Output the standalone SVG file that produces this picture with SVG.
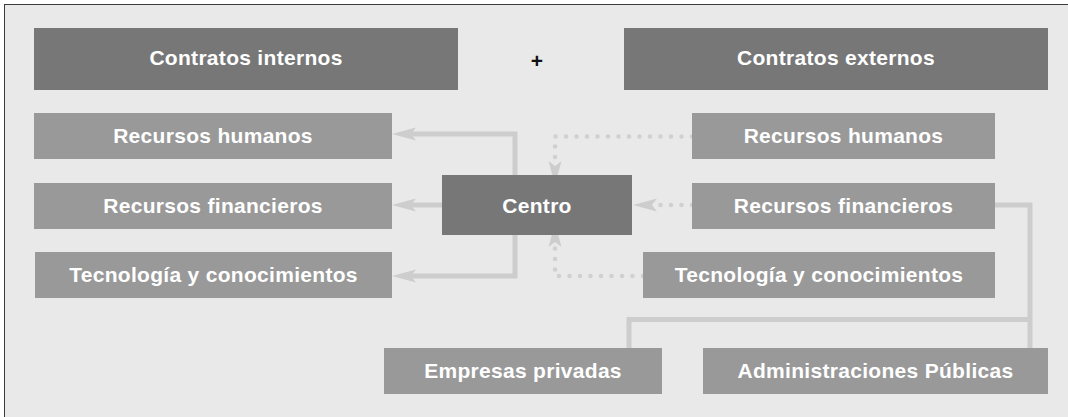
<svg xmlns="http://www.w3.org/2000/svg" width="1068" height="417" viewBox="0 0 1068 417">
<style>
.dark{fill:#777777}
.mid{fill:#999999}
.lbl{font-family:"Liberation Sans",Arial,Helvetica,sans-serif;font-weight:bold;font-size:21px;letter-spacing:0.3px;fill:#ffffff;text-anchor:middle}
.solid{fill:none;stroke:#cdcdcd;stroke-width:5}
.dots{fill:none;stroke:#d0d0d0;stroke-width:4.5;stroke-linecap:round;stroke-dasharray:0 10.5}
</style>
<defs>
<marker id="ah" viewBox="-6 -7 26 14" refX="0" refY="0" markerWidth="26" markerHeight="14" markerUnits="userSpaceOnUse" orient="auto">
<path d="M19,0 L-5,-6.5 L0,0 L-5,6.5 Z" fill="#cdcdcd"/>
</marker>
</defs>
<rect x="4.5" y="4.5" width="1100" height="500" fill="#e9e9e9" stroke="#3a3a3a" stroke-width="1"/>
<g id="connectors">
<path class="solid" d="M515 177 V134 H411" marker-end="url(#ah)"/>
<path class="solid" d="M444 205 H411" marker-end="url(#ah)"/>
<path class="solid" d="M515 233 V276 H411" marker-end="url(#ah)"/>
<path class="dots" d="M692 136.5 H555 V166" marker-end="url(#ah)"/>
<path class="dots" d="M692 205 H652" marker-end="url(#ah)"/>
<path class="dots" d="M643 276 H555 V242" marker-end="url(#ah)"/>
<path class="solid" d="M993 205 H1030 V350"/>
<path class="solid" d="M629 350 V319.5 H1030"/>
</g>
<g id="contratos-internos"><rect class="dark" x="34" y="28" width="424" height="62"/><text class="lbl" x="246" y="65">Contratos internos</text></g>
<g id="plus"><text x="537" y="68" font-family="Liberation Sans,Arial,sans-serif" font-weight="bold" font-size="21" fill="#111111" text-anchor="middle">+</text></g>
<g id="contratos-externos"><rect class="dark" x="624" y="28" width="424" height="62"/><text class="lbl" x="836" y="65">Contratos externos</text></g>
<g id="rh-int"><rect class="mid" x="34" y="113" width="358" height="46"/><text class="lbl" x="213" y="143">Recursos humanos</text></g>
<g id="rf-int"><rect class="mid" x="34" y="183" width="358" height="46"/><text class="lbl" x="213" y="213">Recursos financieros</text></g>
<g id="tec-int"><rect class="mid" x="35" y="252" width="357" height="46"/><text class="lbl" x="213.5" y="282">Tecnología y conocimientos</text></g>
<g id="centro"><rect class="dark" x="442" y="175" width="190" height="60"/><text class="lbl" x="537" y="212.5">Centro</text></g>
<g id="rh-ext"><rect class="mid" x="692" y="113" width="303" height="46"/><text class="lbl" x="843.5" y="143">Recursos humanos</text></g>
<g id="rf-ext"><rect class="mid" x="692" y="183" width="303" height="46"/><text class="lbl" x="843.5" y="213">Recursos financieros</text></g>
<g id="tec-ext"><rect class="mid" x="643" y="252" width="352" height="46"/><text class="lbl" x="819" y="282">Tecnología y conocimientos</text></g>
<g id="empresas"><rect class="mid" x="384" y="348" width="278" height="46"/><text class="lbl" x="523" y="378">Empresas privadas</text></g>
<g id="admin"><rect class="mid" x="703" y="348" width="345" height="46"/><text class="lbl" x="875.5" y="378">Administraciones Públicas</text></g>
</svg>
